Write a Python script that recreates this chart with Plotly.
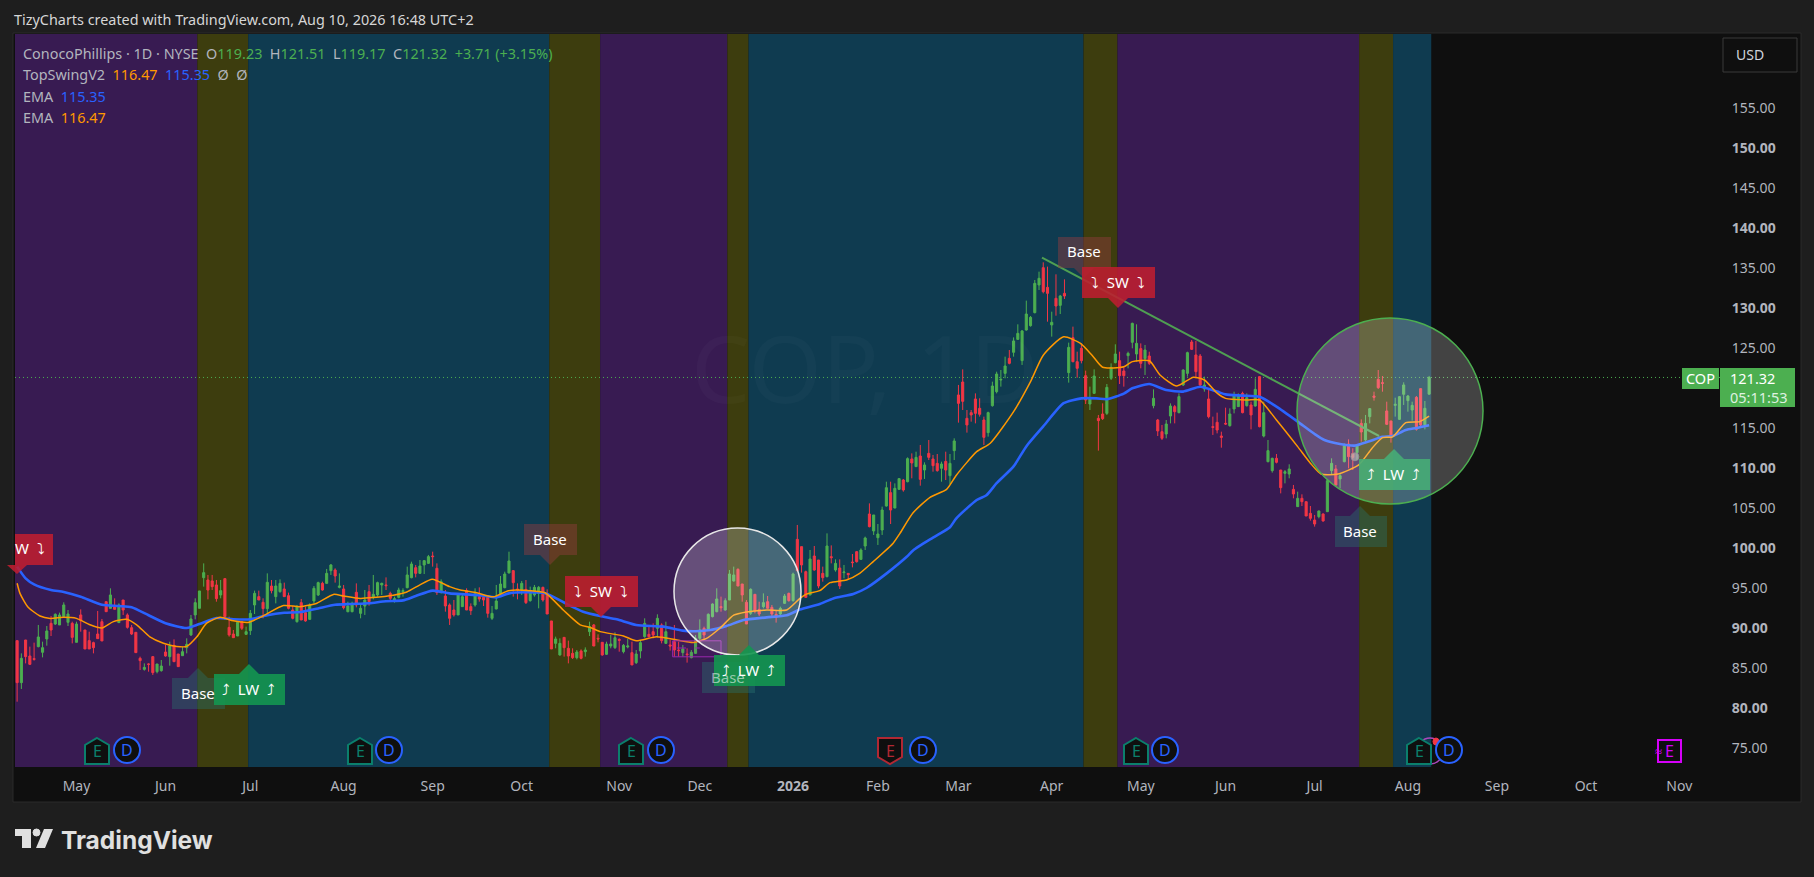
import plotly.graph_objects as go

# daily COP candles, bar 0 is mid April 2025, last bar Aug 10 2026
opens = [
    88.42,83.17,88.5,86.5,86.17,87.67,86.96,88.63,90.58,90.5,
    90.38,91.42,90.71,90.58,88.21,91.63,89.75,88.42,88.17,89.25,
    90.79,93.29,92.46,92.75,90.67,93.5,91.63,90.04,89.46,86.21,
    84.83,85.5,86.42,84.54,84.67,87,86.42,87.83,86.75,86.54,
    87.54,89.13,91.63,92.46,96.29,96,95.88,95.38,94.13,96.17,
    90.08,89.25,89,90.79,89.21,89.67,92.88,93.92,93.21,92.42,
    95.25,93.92,94.54,94.88,94.04,92.25,90.79,93.17,91.92,91.08,
    93.38,94.13,95.58,95.58,97.17,97.25,95.08,94.88,92.04,92.04,
    94.46,91.83,92.75,94.54,93.83,94.13,95.38,95.38,94.33,93.42,
    93.83,94.54,95.04,96.29,97.54,96.83,97.88,98.08,99,97.46,
    94.42,94,92.88,92.25,91.63,92.67,94.67,92.67,92.88,93.92,
    93.83,93.83,91.21,92.38,94.21,95.04,96.88,97.17,94.88,94.75,
    94.83,93.42,94.13,94.33,95.08,94.25,90.88,88.08,86.63,88.83,
    87.46,86.83,86.29,87.13,87.04,89.54,90.38,88.71,88.21,86.71,
    87.75,87.54,88.58,87.04,87.63,86.92,85.67,87.13,88.92,89.21,
    89.54,89.96,90.38,88.08,87.88,88.29,87.25,86.92,86.75,86.29,
    86.83,88.71,89.96,89.83,91.42,92.04,92.67,92.25,93.5,95.88,
    97.33,95.5,93.21,91.83,94.21,92.33,92.67,93.29,92.58,91.71,
    91.75,93.08,94.33,93.42,101.08,100.17,97.04,94.13,99,98.5,
    96.83,96.42,98.92,97.25,97.5,96.92,96.83,98.25,99.54,98.58,
    100.25,104.25,102.13,101.29,102.25,105.25,106.92,105,107.33,108.5,
    108.29,111.13,110.17,111.5,109.75,111.83,111.13,110.58,109.96,110.83,
    109.04,112.17,119.13,120.75,116.21,116.92,118.63,117.46,116,114.42,
    117.79,119.54,121,121.83,123.71,124.46,126.08,123.42,127.25,127.79,
    129.42,132.88,135.04,132.58,127.88,131.21,130.33,131.83,121.92,126.29,
    123.29,124.96,121.54,118,119.33,116.21,116.75,116.83,121.21,123.17,
    123.42,122.13,124.04,125.71,124.25,124.92,123.67,124,117.79,116,
    114.54,114.25,116.5,117.67,116.92,120.38,121.83,125.75,124.13,124,
    119.88,118.63,115.17,115.71,114,115.58,115.29,117.38,117.67,119.33,
    117.79,117.88,117.75,121.42,114,110.79,109.67,111.21,109.75,109.33,
    109.25,107.33,105.17,106.21,105.79,104.33,103.5,103.92,104.25,104.54,
    109.67,109.88,108.63,110.79,113,111.83,111.92,115.58,113.5,116.42,
    119,121.08,120.67,117.13,115.88,117.83,116.08,119.21,118.42,117.25,
    118.83,119.92,115.38,119.23,
]
highs = [
    88.42,86.83,88.5,87.67,88.17,90.38,88.29,90.25,91.5,91.83,
    91.92,93.21,92.25,90.79,90.79,92.33,89.75,89.54,88.29,92.13,
    91.13,93.29,94.96,93.71,93.08,93.5,91.83,90.38,89.46,86.42,
    85.58,85.58,86.5,85.5,86,87.88,88.29,88.58,86.75,87.67,
    88.71,91.63,93.71,94.63,98.08,96.63,96.63,96,96,96.17,
    91.42,89.75,90.79,90.79,90.17,92.25,94.67,94.67,93.71,96.83,
    96,96,96.08,95.67,94.42,92.75,92.88,93.63,92.67,93.08,
    95.25,95.79,95.79,97.38,98,97.46,96.83,95.38,93.29,93.29,
    95.58,92.88,94.75,95.38,96.63,95.79,95.67,96.33,94.54,93.92,
    95.04,94.96,97.67,98.29,97.88,98.5,98.5,99.13,99.54,98.08,
    96.08,94.75,93.08,93.5,94.33,94.33,94.96,93.08,94.96,95.08,
    94.13,94.13,92.75,95.38,96.5,97.04,99.54,97.25,95.58,95.88,
    96,95.17,95.38,95.25,95.17,94.83,90.88,88.92,88.71,88.83,
    88.42,87.46,87.25,87.33,87.58,90.79,90.5,89.21,88.21,88.29,
    89.13,89.46,88.71,88,88.63,88.29,87.25,88.5,91.21,90.25,
    90.58,91.71,90.58,90.79,88.5,90.38,88.29,87.88,87.46,87.25,
    89.13,91.08,90.17,91.83,93.08,94.96,93.92,93.71,97.25,97.67,
    97.46,95.5,93.5,94.96,94.21,93.29,94.33,94,92.88,92.25,
    92.67,94.25,94.42,96.92,102.88,100.17,97.17,99.75,100.25,98.5,
    97.67,101.83,100.33,98.58,98.58,97.88,96.83,99.25,99.63,99.96,
    101.42,105.58,104.13,103,105.17,108.29,108.29,108.08,108.71,108.63,
    111.33,111.83,112.04,112.88,110.71,113.5,111.63,111.75,110.79,112.04,
    111.75,113.71,120.38,122.33,117.25,117.25,119.33,118.71,116.42,117.04,
    120.79,122.04,122.25,123.92,124.75,126.33,127.96,127.25,130.92,129,
    133.5,134.54,135.71,135.17,129.54,134.21,131.63,133.58,125.67,127.67,
    124.54,125.58,122.17,120.17,122.33,116.63,118.08,120.5,123.08,125.46,
    124.54,122.67,124.54,128.17,127.96,125.58,125.38,124.54,119.83,116.13,
    115.38,116,118.08,117.88,119.33,122.33,124.54,126,125.88,124.25,
    121.42,119.75,116.42,116.92,114.54,117.54,117.46,119.54,119.33,119.54,
    119.33,118.29,121.21,121.42,118.29,113.5,111.29,111.75,109.75,109.75,
    110.46,107.88,107.04,106.71,105.79,105.25,104.13,104.67,104.33,108.63,
    111.21,110.38,109.42,113.08,113.58,112.46,112.75,116.08,116.63,117.5,
    119.54,122.25,121.5,118.29,115.88,118.79,119,120.71,119.13,118.29,
    119,119.96,118.38,121.51,
]
lows = [
    80.79,82.38,85.58,85.38,85.92,87.58,86.33,87.79,89,90.38,
    90.38,91.42,90.25,88.08,88.21,89.54,87.38,87.38,86.83,88.67,
    88.38,92.04,92.46,92.33,90.67,91.63,89.92,89.13,86.92,84.75,
    84.67,84.54,84.13,84.33,84.54,86.42,85.29,85.79,85.17,86.54,
    86.83,89,91.08,92.46,95.17,93.58,94.75,93.29,93.71,91,
    88.92,88.75,89,89.75,89.13,89.13,91.75,93.5,91.21,91.63,
    94.33,93.08,94.42,93.92,92.33,91.08,90.67,91,90.79,91,
    93.08,94,94.67,95.58,96.63,95.67,94.96,92.33,91.96,91.96,
    92.58,91.21,91.63,92.79,93.58,93.92,94.13,94.75,93.29,93.17,
    93.71,93.92,94.96,96.21,96.33,96.75,96.75,98,97.67,94.13,
    94.33,92.04,90.38,91.42,91.63,92.67,92.25,91.63,92.67,93.29,
    92.75,91.29,91,92.33,93.92,94.96,96.83,93.92,93.58,94.13,
    93,93.29,93.92,92.46,93.29,91.75,87.38,87.46,86.54,86.42,
    85.58,86.13,86.08,86.08,86.42,89,87.75,88.21,86.54,86.63,
    87.46,87.38,87.04,86.83,87.46,85.38,85.5,86.21,88.79,88.83,
    88.71,88.83,88.08,88,87.17,86.42,86.42,86.42,85.67,86.21,
    86.75,88.5,88.58,89.75,91.33,91.96,92.04,92.17,93.5,95.79,
    95.25,93.29,90.5,91.63,91.83,91.5,92.46,92.46,91.42,90.67,
    91.63,93,93.29,93.29,97.04,96.92,93.83,94.13,97.17,94.96,
    95.79,96.33,98.08,97.04,94.88,96.21,96,97.58,98.17,98.5,
    99.75,102.58,101.63,100.38,101.63,105.17,103,104.96,107.25,107.04,
    108.21,108.71,110.17,107.79,108.63,111,109.54,109.54,108.29,108.5,
    108,111,115.67,117.25,114.42,115.79,115.58,116.42,112.88,113.92,
    117.67,119.33,120.17,121.21,122.96,123.92,126,122.88,127.17,127.67,
    129.33,132.25,131.83,128.29,126.42,129.04,129.25,131.13,120.67,123.21,
    121.29,123.08,118,117.25,119.25,112.17,116,116.63,121,123.08,
    120.5,120.17,122.46,124.96,123.29,122.46,121.63,122.88,117.46,114,
    113.5,113.71,115.58,115.58,116.83,120.25,121.42,124.75,121.21,120.17,
    119.54,116.21,114.13,114.33,112.54,115.38,115.17,116.83,117.67,116.83,
    117.67,114.83,117.67,115.08,113.83,110.71,109.42,110.58,106.83,108.08,
    108.71,106.21,105.17,105.25,104,103.42,102.67,103.71,103.29,104.54,
    109.13,107.79,107.46,110.71,109.96,109.75,111,113.29,113.29,115.58,
    118.42,119.88,119.54,115.38,113.17,116.42,116,117.88,117.04,115.92,
    114.67,115.25,114.83,119.17,
]
closes = [
    83.17,86.21,86.42,85.46,86.08,88.88,87.54,89.63,89.75,91.71,
    91.63,92.88,91.75,88.83,90.5,90.92,87.38,87.38,87.54,88.67,
    88.38,92.04,94.13,92.33,92.88,92.25,90.08,89.25,86.92,85.92,
    85.08,85.46,84.42,85.5,85.25,86.5,87.75,85.79,85.17,87.04,
    87.96,91.13,93.17,94.63,96.92,94.75,95.17,93.67,94.67,91.42,
    89.13,88.79,90.71,89.96,89.54,91.83,94.33,93.5,92.42,95.71,
    94.67,95.25,95.58,93.92,92.46,91.21,92.67,91,90.88,92.88,
    94.96,95.67,94.75,96.83,97.88,96.5,95.25,92.54,92.75,93.08,
    92.88,92.46,93.5,93.29,94.21,95.67,95.58,95.29,93.71,93.67,
    94.75,94.67,96.63,98,96.83,97.75,98.42,98.92,98.92,94.42,
    95.79,92.75,91.21,91.63,94.21,93.92,92.25,92.17,94.33,93.63,
    93.5,91.83,91.83,93.38,95.5,96.75,98.38,95.67,94.75,95.58,
    93.17,94.67,95.08,95.08,93.5,91.75,87.38,88.63,88.08,87.54,
    86.5,86.29,87,86.21,87.25,90.17,87.75,88.63,86.63,88,
    88,88.79,88.46,87.83,87.75,85.38,86.75,88.17,90.58,88.92,
    89.13,91.21,88.42,89.54,87.75,87.25,87.17,87.38,86.67,86.96,
    88.71,89.75,89.13,91.71,93,93.63,92.54,93.42,96.75,96.63,
    95.25,94.13,90.5,94.83,92.13,91.75,93.17,92.46,91.75,91.33,
    92.46,94,93.42,96.75,97.17,97.88,93.83,98.63,97.25,95.25,
    96.29,100.25,98.79,98.08,95.25,97,96.67,98.17,98.29,99.75,
    101.25,102.67,104.13,101.75,104.75,107.54,104.75,107.46,108.67,107.25,
    111.17,110.63,111.33,108.58,110.38,111.33,110.29,109.67,110.5,109.75,
    110.58,113.38,118.08,118.33,115.38,116.63,116.83,116.71,113.83,116.92,
    120.25,121.75,121.08,122.75,123.08,125.88,126.83,127.13,129.25,128.83,
    133.08,133.71,132.04,131.83,128.21,130.25,131.5,131.5,125.08,123.29,
    122.46,123.42,118.5,118.79,121.5,115.92,116.17,120.08,122.58,124.25,
    121.54,121.54,124.33,128.08,125.58,123.08,124.75,123.08,118.71,114.63,
    113.71,115.5,117.75,117.04,118.92,122.25,124.42,124.83,122.04,120.38,
    120.38,116.42,115.08,114.75,113.83,115.5,116.75,119.04,119.04,116.92,
    118.79,116.63,119.83,115.17,116.92,112.17,111.21,110.71,107.54,109.54,
    109.88,106.75,106.21,105.79,104,103.71,103,104.63,103.38,108.42,
    110.58,107.88,109.04,112.79,111.42,111.33,112.75,114.5,115.58,117.42,
    118.83,120.04,120.58,115.46,113.92,117.96,118.92,120.38,119,117.83,
    114.83,115.38,117.46,121.32,
]
bars = list(range(len(closes)))

# the two EMAs, read at a set of bars along each line
blue_bars = [0,2,4,8,11,15,20,24,27,31,35,40,43,47,51,55,59,63,67,71,75,79,83,87,91,94,98,102,106,110,113,116,120,124.5,
             130,133.5,137.5,141.4,146,152.4,157,160,163.5,167.3,171.3,176.8,181.5,184.6,189.3,192.5,197.2,200.3,205,
             209.8,211.3,216,220,221.5,226.3,228.6,231,235,238,242,246.8,251,254.6,257,261,263,267,271,275,279,283,285,
             289,293,297,302,306,308.3,312,315.5,318.7,322,324.4,327.5,330,333]
blue_ema = [97.67,96.2,95.45,94.75,94.5,93.9,92.9,92.75,92.6,91.6,90.6,90.0,90.5,91.25,91.1,91.1,91.6,91.9,92.0,92.45,92.9,
            93.0,93.1,93.35,93.45,94.0,94.67,94.33,94.2,94.04,93.83,94.33,94.46,94.33,
            92.9,92.04,91.5,91.08,90.38,90.17,89.67,89.6,89.75,90.25,91.0,91.33,91.6,92.3,93.0,93.7,94.25,95.0,96.8,
            98.9,99.7,101.3,102.6,103.7,106.0,106.6,108.1,110.2,112.7,115.2,118.1,118.7,118.7,118.6,119.3,119.96,120.5,119.75,
            119.55,120.15,119.55,119.2,119.05,118.9,117.67,115.8,114.25,113.5,113.0,112.8,113.3,113.9,114.0,114.75,115.0,115.35]
orange_bars = [0,0.7,2.6,5.4,7.8,10.9,14,17.2,20,22.7,25.8,28.2,31.3,34.5,37.6,40,42.4,44.7,47.9,51,54.5,58,62.8,66.7,70.7,74.6,77,
               80.9,84,88.7,91.9,95,97.9,102,104.5,108.4,112.3,115.9,121,124.5,128.8,132.8,135,137.5,143,146,150.8,155.6,159.5,
               162.6,165.8,169,172,176.8,181.5,184.6,186.2,189.3,191.7,195.6,198.7,201.9,206.6,208.2,211.3,215.3,219.2,221.5,
               226.3,229.5,235,239,242,246.8,250.7,253.5,256,261,263,267,269.6,273.5,277.4,280,283,285,290,293,297,302,305,
               307.5,311.5,316.4,319.5,322,324.4,327.5,330.8,333]
orange_ema = [95.6,94.3,92.6,91.5,91.2,91.33,91.2,90.4,90.0,90.8,91.1,90.4,88.9,88.1,87.7,87.7,88.9,90.6,91.33,90.9,90.7,91.5,92.8,92.67,
              93.1,94.2,94.0,93.7,93.8,94.1,94.5,95.4,96.1,95.17,94.75,94.4,93.9,94.67,94.67,94.4,92.25,90.4,90.1,89.55,89.0,88.4,88.9,
              88.5,88.2,88.7,90.0,91.6,92.0,92.25,92.25,93.7,94.25,94.67,95.67,96.0,96.83,98.3,100.6,101.83,104.4,106.33,107.33,109.1,
              112.04,113.1,117.05,120.8,124.1,126.4,125.6,124.1,122.6,122.65,123.3,123.4,121.6,120.25,121.35,121.0,119.35,118.7,118.5,
              118.5,116.0,112.67,110.6,109.25,109.25,110.4,112.45,113.8,113.9,115.67,115.8,116.47]

trend_bars = [241.7, 321.2]
trend_vals = [136.3, 114.0]
pivot_bar = [315.5]
pivot_val = [111.4]
last_close = 121.32

# regime background bands
band_edges = [-0.5, 42.5, 54.5, 125.5, 137.5, 167.5, 172.5, 251.5, 259.5, 316.5, 324.5, 333.5]
band_colors = ["#381b52", "#3d3d0e", "#0f3b50", "#3d3d0e", "#381b52", "#3d3d0e", "#0f3b50", "#3d3d0e", "#381b52", "#3d3d0e", "#0f3b50"]

month_bars = [14, 35, 55, 77, 98, 119, 142, 161, 183, 203, 222, 244, 265, 285, 306, 328, 349, 370, 392]
month_labels = ["May", "Jun", "Jul", "Aug", "Sep", "Oct", "Nov", "Dec", "<b>2026</b>", "Feb", "Mar", "Apr",
                "May", "Jun", "Jul", "Aug", "Sep", "Oct", "Nov"]
# 120.00 sits behind the last price tag, so it never shows
price_ticks = [75, 80, 85, 90, 95, 100, 105, 110, 115, 125, 130, 135, 140, 145, 150, 155]
price_labels = [f"<b>{p}.00</b>" if p % 10 == 0 else f"{p}.00" for p in price_ticks]

GREEN = "#4caf50"
RED = "#f23645"
BLUE = "#2962ff"
ORANGE = "#ff9800"
GREY = "#b2b5be"
FONT = "Noto Sans"

# plot area in page pixels
LEFT, RIGHT, TOP, BOTTOM = 15, 1720, 34, 767


def px(x):
    return (x - LEFT) / (RIGHT - LEFT)


def py(y):
    return (BOTTOM - y) / (BOTTOM - TOP)


def box_path(x0, y0, x1, y1, tip=None):
    # rectangle in page pixels with an optional pointer on its top or bottom edge
    pts = [(x0, y0)]
    if tip and tip[1] < y0:
        pts += [(tip[0] - 10, y0), tip, (tip[0] + 10, y0)]
    pts += [(x1, y0), (x1, y1)]
    if tip and tip[1] > y1:
        pts += [(tip[0] + 10, y1), tip, (tip[0] - 10, y1)]
    pts += [(x0, y1)]
    return "M " + " L ".join(f"{px(a):.5f} {py(b):.5f}" for a, b in pts) + " Z"


def add_path(path, fill, line="rgba(0,0,0,0)", width=1, layer="above"):
    fig.add_shape(type="path", path=path, xref="paper", yref="paper", fillcolor=fill,
                  line=dict(color=line, width=width), layer=layer)


def add_round(x0, y0, x1, y1, fill, line, width=1):
    fig.add_shape(type="circle", xref="paper", yref="paper", x0=px(x0), x1=px(x1), y0=py(y1), y1=py(y0),
                  fillcolor=fill, line=dict(color=line, width=width), layer="above")


def add_text(x, y, text, size=14, color="#ffffff", anchor="center", family=FONT):
    fig.add_annotation(xref="paper", yref="paper", x=px(x), y=py(y), text=text, showarrow=False,
                       xanchor=anchor, yanchor="middle", borderpad=0,
                       font=dict(size=size, color=color, family=family))


def add_label(kind, x0, y0, x1, y1, tip, text, text_color="#ffffff"):
    fills = {"sw": "rgba(190,30,48,0.88)", "lw": "rgba(20,150,80,0.9)",
             "base_up": "rgba(40,115,110,0.4)", "base_down": "rgba(146,60,62,0.45)"}
    add_path(box_path(x0, y0, x1, y1, tip), fills[kind])
    add_text((x0 + x1) / 2 - 1, (y0 + y1) / 2 - 1, text, size=15, color=text_color)


def add_earnings(x, color="#0b7f6c", up=True):
    t, b = 738, 764
    if up:
        pts = [(x, t), (x + 12, t + 7), (x + 12, b), (x - 12, b), (x - 12, t + 7)]
    else:
        pts = [(x - 12, t), (x + 12, t), (x + 12, b - 7), (x, b), (x - 12, b - 7)]
    add_path("M " + " L ".join(f"{px(a):.5f} {py(c):.5f}" for a, c in pts) + " Z", "#0f0f0f", color, 2)
    add_text(x, 751, "E", size=16, color=color)


def add_dividend(x):
    add_round(x - 13, 737, x + 13, 763, "#0f0f0f", BLUE, 2)
    add_text(x, 750, "D", size=16, color=BLUE)


fig = go.Figure()

fig.add_trace(go.Candlestick(x=bars, open=opens, high=highs, low=lows, close=closes,
                             increasing=dict(line=dict(color=GREEN, width=1), fillcolor=GREEN),
                             decreasing=dict(line=dict(color=RED, width=1), fillcolor=RED),
                             whiskerwidth=0, showlegend=False, hoverinfo="skip"))
fig.add_trace(go.Scatter(x=blue_bars, y=blue_ema, mode="lines", line=dict(color=BLUE, width=2.6, shape="spline", smoothing=0.6), showlegend=False))
fig.add_trace(go.Scatter(x=orange_bars, y=orange_ema, mode="lines", line=dict(color=ORANGE, width=1.5, shape="spline", smoothing=0.6), showlegend=False))
fig.add_trace(go.Scatter(x=trend_bars, y=trend_vals, mode="lines", line=dict(color="#4f9f52", width=2), showlegend=False))
fig.add_trace(go.Scatter(x=pivot_bar, y=pivot_val, mode="markers", showlegend=False,
                         marker=dict(size=8, color="rgba(170,170,170,0.6)", line=dict(color="rgba(120,120,120,0.8)", width=1))))

# panel behind everything
fig.add_shape(type="rect", xref="paper", yref="paper", x0=px(13), x1=px(1801), y0=py(802), y1=py(33),
              fillcolor="#0f0f0f", line=dict(color="#2a2a2a", width=1), layer="below")

for i, color in enumerate(band_colors):
    fig.add_shape(type="rect", xref="x", yref="paper", x0=band_edges[i], x1=band_edges[i + 1], y0=0, y1=1,
                  fillcolor=color, line=dict(width=0), layer="below")

fig.add_shape(type="line", xref="paper", yref="y", x0=0, x1=1, y0=last_close, y1=last_close,
              line=dict(color=GREEN, width=1, dash="1px,3px"), layer="below")

# purple base box near December
fig.add_shape(type="rect", xref="x", yref="y", x0=154.6, x1=166, y0=86.4, y1=88.4,
              line=dict(color="#9c27b0", width=1), fillcolor="rgba(156,39,176,0.08)")
fig.add_shape(type="line", xref="x", yref="y", x0=155.6, x1=161, y0=87.5, y1=87.5,
              line=dict(color="#9c27b0", width=1, dash="dash"))

# watermark
add_text(865, 367, "COP, 1D", size=94, color="rgba(255,255,255,0.024)")
add_text(865, 452, "ConocoPhillips", size=42, color="rgba(255,255,255,0.024)")

# white circle sits under the labels
add_round(674, 528, 801, 655, "rgba(255,255,255,0.23)", "#e8e8e8", 1.5)

sw_text = "⤵\u00a0\u00a0SW\u00a0\u00a0⤵"
lw_text = "⤴\u00a0\u00a0LW\u00a0\u00a0⤴"
add_label("base_up", 172, 678, 225, 709, (198, 668), "Base")
add_label("lw", 214, 674, 285, 705, (249, 664), lw_text)
add_path(box_path(15, 534, 53, 565, (17, 574)), "rgba(190,30,48,0.88)")
add_text(14, 548, "W\u00a0\u00a0⤵", size=15, anchor="left")
add_label("base_down", 524, 524, 577, 555, (550, 565), "Base")
add_label("sw", 565, 576, 638, 607, (601, 617), sw_text)
add_label("base_up", 702, 662, 755, 693, None, "Base", "rgba(255,255,255,0.55)")
add_label("lw", 714, 655, 785, 686, (749, 645), lw_text)
add_label("base_down", 1058, 237, 1111, 268, (1084, 278), "Base")
add_label("sw", 1082, 267, 1155, 298, (1118, 308), sw_text)
add_label("base_up", 1335, 516, 1387, 547, (1360, 506), "Base")
add_label("lw", 1359, 459, 1430, 490, (1394, 449), lw_text)

# green circle sits over the last label
add_round(1297, 318, 1483, 504, "rgba(255,255,255,0.22)", GREEN, 1.5)

# earnings and dividend flags along the bottom
for x in [97, 360, 631, 1136]:
    add_earnings(x)
add_earnings(890, "#b22833", up=False)
add_round(1417, 738, 1443, 764, "rgba(0,0,0,0)", "#ab47bc", 1.5)
add_round(1433, 738, 1439, 745, RED, RED)
add_earnings(1419)
for x in [127, 389, 661, 923, 1165, 1449]:
    add_dividend(x)
add_path(box_path(1658, 740, 1681, 762), "rgba(0,0,0,0)", "#d500f9", 2)
add_text(1669, 751, "E", size=16, color="#d500f9")
add_text(1658, 751, "≈", size=13, color="#d500f9")

# last price tags
add_path(box_path(1682, 368, 1719, 389), GREEN)
add_text(1700, 378, "COP", size=14.5)
add_path(box_path(1720, 368, 1795, 407), GREEN)
add_text(1729, 378, "121.32", size=14.5, anchor="left")
add_text(1729, 397, "05:11:53", size=14.5, color="#dff1e0", anchor="left")

# currency button
fig.add_shape(type="rect", xref="paper", yref="paper", x0=px(1723), x1=px(1797), y0=py(72), y1=py(38),
              fillcolor="#0f0f0f", line=dict(color="#3a3a3a", width=1), layer="above")
add_text(1735, 55, "USD", size=14, color="#d1d4dc", anchor="left")

# header and legend lines
add_text(13, 20, "TizyCharts created with TradingView.com, Aug 10, 2026 16:48 UTC+2", size=14.4, color="#d6d6d6", anchor="left")


def span(text, color):
    return f'<span style="color:{color}">{text}</span>'


gap = "\u00a0\u00a0"
add_text(22, 54, span("ConocoPhillips · 1D · NYSE" + gap + "O", GREY) + span("119.23", GREEN) + span(gap + "H", GREY) + span("121.51", GREEN)
         + span(gap + "L", GREY) + span("119.17", GREEN) + span(gap + "C", GREY) + span("121.32", GREEN) + span(gap + "+3.71 (+3.15%)", GREEN),
         size=14.4, color=GREY, anchor="left")
add_text(22, 75, span("TopSwingV2" + gap, GREY) + span("116.47", ORANGE) + span(gap, GREY) + span("115.35", BLUE) + span(gap + "Ø" + gap + "Ø", GREY),
         size=14.4, color=GREY, anchor="left")
add_text(22, 96, span("EMA" + gap, GREY) + span("115.35", BLUE), size=14.4, color=GREY, anchor="left")
add_text(22, 117, span("EMA" + gap, GREY) + span("116.47", ORANGE), size=14.4, color=GREY, anchor="left")

# TradingView logo bottom left
logo_color = "#e0e0e0"
add_path("M " + " L ".join(f"{px(a):.5f} {py(b):.5f}" for a, b in
                           [(15, 829), (31, 829), (31, 848), (22, 848), (22, 836), (15, 836)]) + " Z", logo_color)
add_round(33, 829, 40, 836, logo_color, logo_color)
add_path("M " + " L ".join(f"{px(a):.5f} {py(b):.5f}" for a, b in
                           [(44, 829), (53, 829), (45, 848), (36, 848)]) + " Z", logo_color)
add_text(60, 840, "<b>TradingView</b>", size=24.5, color=logo_color, anchor="left", family="Inter")

fig.update_layout(
    width=1814, height=877,
    margin=dict(l=LEFT, r=1814 - RIGHT, t=TOP, b=877 - BOTTOM),
    paper_bgcolor="#1e1e1e", plot_bgcolor="#0f0f0f",
    showlegend=False,
    font=dict(family=FONT, size=14, color=GREY),
    xaxis=dict(range=[-0.5, 401.6], tickvals=month_bars, ticktext=month_labels, showgrid=False, zeroline=False,
               showline=False, rangeslider=dict(visible=False), ticks="outside", ticklen=6, tickcolor="rgba(0,0,0,0)"),
    yaxis=dict(range=[72.625, 164.25], side="right", tickvals=price_ticks, ticktext=price_labels, showgrid=False,
               zeroline=False, showline=False, ticks="outside", ticklen=8, tickcolor="rgba(0,0,0,0)"),
)

fig.write_html("out.html", config=dict(displayModeBar=False),
               post_script="document.body.style.margin='0';document.body.style.background='#1e1e1e';document.body.style.overflow='hidden';")
